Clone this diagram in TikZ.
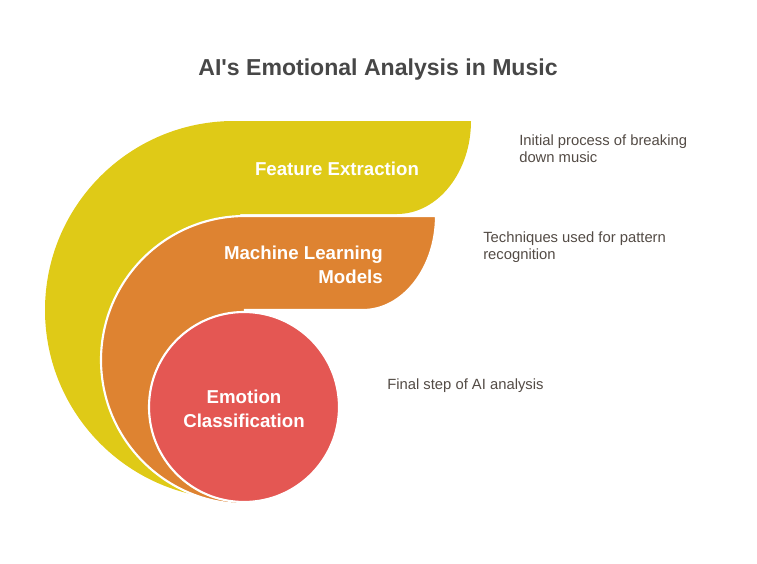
\documentclass[tikz,border=0pt]{standalone}
\usepackage{fontspec}
\setmainfont{Liberation Sans}
\usepackage{tikz}
\definecolor{featyellow}{HTML}{DFCA17}
\definecolor{modelorange}{HTML}{DE8331}
\definecolor{emored}{HTML}{E45753}
\definecolor{titlegray}{HTML}{474747}
\definecolor{notegray}{HTML}{534B45}
\tikzset{
  titletext/.style={font=\bfseries\fontsize{17.3}{20}\selectfont, text=titlegray, inner sep=0},
  stagetext/.style={font=\bfseries\fontsize{14}{18}\selectfont, text=white, inner sep=0},
  notetext/.style={font=\fontsize{11.1}{12.75}\selectfont, text=notegray, inner sep=0, align=left},
  stageedge/.style={draw=white, line width=1.6pt}
}

\begin{document}
\begin{tikzpicture}[x=0.75pt,y=-0.75pt]
      \useasboundingbox (0,0) rectangle (757,564);
      % outer stage
      \fill[featyellow] (234,499) arc[start angle=90, end angle=270, radius=189]
        -- (471,121) .. controls (471,172) and (438,214) .. (397,214) -- (240,214) -- (240,480) -- cycle;
      % middle stage
      \filldraw[modelorange, stageedge] (245,504) arc[start angle=90, end angle=270, radius=144]
        -- (436,216) .. controls (436,268) and (403,310) .. (363,310) -- (245,310) -- cycle;
      % inner stage
      \filldraw[emored, stageedge] (244,407) circle[radius=95];
      \node[titletext, anchor=base] (title) at (378,75) {AI\textquotesingle s Emotional Analysis in Music};
      \node[stagetext, anchor=base] (feat) at (337,175) {Feature Extraction};
      \node[stagetext, anchor=north east, align=right] (model) at (383,245.5) {Machine Learning\\Models};
      \node[stagetext, anchor=north, align=center] (emo) at (244,389.5) {Emotion\\Classification};
      \node[notetext, anchor=north west] (featnote) at (519,135) {Initial process of breaking\\down music};
      \node[notetext, anchor=north west] (modelnote) at (483,232) {Techniques used for pattern\\recognition};
      \node[notetext, anchor=base west] (emonote) at (387,389) {Final step of AI analysis};
    \end{tikzpicture}
\end{document}
